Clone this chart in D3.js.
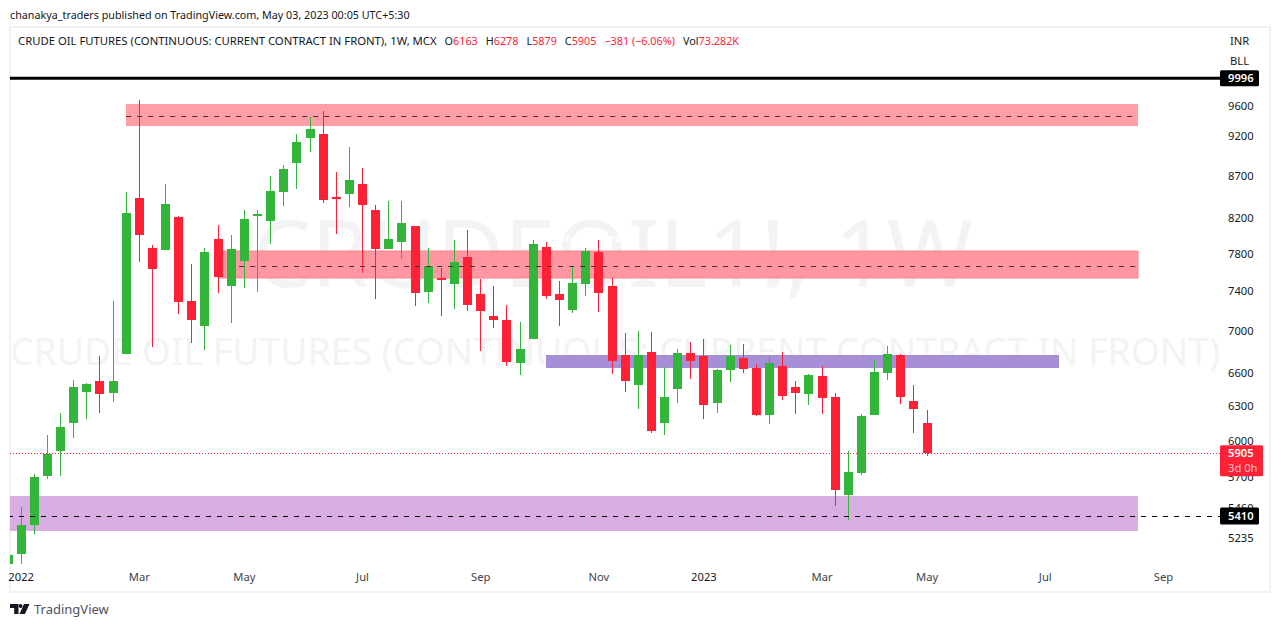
<!DOCTYPE html>
<html>
<head>
<meta charset="utf-8">
<script src="https://cdn.jsdelivr.net/npm/d3@7"></script>
<style>
    html, body { margin: 0; padding: 0; background: #fff; }
    svg { display: block; }
    text { font-family: "Noto Sans", sans-serif; }
</style>
</head>
<body>
<div id="chart"></div>
<script>
// Weekly candles
const opens  = [5055,5126,5338,5719,5923,6160,6435,6535,6426,6787,8450,7876,7854,8227,7312,7060,7976,7467,7734,8238,8181,8521,8875,9192,9243,8462,8497,8617,8308,7865,7943,8124,7404,7551,7488,7778,7384,7160,7119,6702,6932,7887,7384,7220,7488,7832,7467,6777,6498,6806,6160,6462,6797,6768,6336,6636,6749,6655,6230,6674,6480,6417,6581,6390,5568,5743,6230,6608,6777,6354,6163];
const highs  = [5118,5475,5735,6057,6248,6544,6517,6768,7312,8521,9695,7909,8617,8238,7702,7876,8135,8021,8308,8308,8714,8850,9243,9467,9547,8763,9076,8813,8367,8414,8414,8124,7876,7659,7965,8078,7541,7467,7271,7099,7965,7943,7520,7680,7876,7965,7551,6990,7010,7000,6664,6835,6903,6932,6645,6874,6883,6692,6768,6806,6535,6599,6674,6426,5923,6239,6740,6864,6787,6498,6278];
const lows   = [5055,5055,5271,5695,5719,6032,6195,6248,6345,6787,7723,6854,7854,7180,6893,6825,7394,7089,7446,7404,7921,8355,8557,9013,8391,8033,8343,7605,7332,7865,7756,7261,7291,7160,7230,7210,6816,7040,6674,6590,6932,7332,7060,7190,7363,7200,6599,6435,6283,6075,6057,6336,6553,6195,6248,6526,6608,6221,6152,6363,6239,6318,6239,5483,5376,5727,6230,6544,6327,6075,5879];
const closes = [5118,5338,5711,5898,6126,6480,6508,6417,6535,8273,8021,7648,8379,7302,7119,7832,7562,7865,8204,8262,8533,8800,9140,9308,8426,8438,8665,8367,7865,7976,8158,7394,7680,7530,7723,7271,7210,7119,6711,6835,7921,7363,7322,7499,7843,7394,6721,6535,6777,6092,6390,6797,6721,6318,6636,6768,6645,6230,6702,6399,6426,6590,6381,5607,5751,6221,6618,6787,6390,6283,5905];

// Price and time axes
const priceTicks = [9600,9200,8700,8200,7800,7400,7000,6600,6300,6000,5700,5460,5235];
const timeLabels = ["2022","Mar","May","Jul","Sep","Nov","2023","Mar","May","Jul","Sep"];
const timeIndex  = [1,10,18,27,36,45,53,62,70,79,88];

// Drawn zones and levels
const zoneTops    = [9640,7843,6777,5560];
const zoneBottoms = [9348,7551,6655,5294];
const zoneStarts  = [9,16,41,0];
const zoneEnds    = [86.05,86.05,80.05,86.05];
const zoneFills   = ["#ff9ea7","#ff96a1","#a78fd8","#d8ade2"];
const zoneStrokes = ["none","#ff8490","none","none"];
const levelPrices = [9485,7680,5410];
const levelStarts = [9,17.6,0];
const levelEnds   = [86.05,86.05,92.4];
const levelColors = ["#4a2c32","#4a2c32","#000"];

const lastPrice = 5905;
const topLevel = 9996;

const upColor = "#33b53a";
const downColor = "#ff2136";
const textColor = "#131722";
const plotLeft = 10, plotRight = 1220, plotTop = 28, plotBottom = 565;

// Scales
const x = d3.scaleLinear().domain([0, 88]).range([8.02, 1163.46]);
const y = d3.scaleLog().domain([5235, 9600]).range([539, 107]);

const svg = d3.select("#chart").append("svg")
    .attr("width", 1280)
    .attr("height", 627)
    .attr("viewBox", "0 0 1280 627");

svg.append("defs").append("clipPath").attr("id", "plot-clip")
    .append("rect")
    .attr("x", plotLeft).attr("y", plotTop)
    .attr("width", plotRight - plotLeft).attr("height", plotBottom - plotTop);

// Frame
svg.append("rect")
    .attr("x", 10).attr("y", 27).attr("width", 1260).attr("height", 565)
    .attr("fill", "none").attr("stroke", "#f0f0f5").attr("stroke-width", 2);

// Header
svg.append("text")
    .attr("x", 10).attr("y", 19)
    .attr("fill", textColor).style("font-size", "10.75px")
    .text("chanakya_traders published on TradingView.com, May 03, 2023 00:05 UTC+5:30");

// Watermarks
svg.append("text")
    .attr("x", 613).attr("y", 287).attr("text-anchor", "middle")
    .attr("fill", "#f2f3f5").style("font-size", "92.5px")
    .text("CRUDEOIL1!, 1W");
svg.append("text")
    .attr("x", 615).attr("y", 365).attr("text-anchor", "middle")
    .attr("fill", "#f2f3f5").style("font-size", "37.35px")
    .text("CRUDE OIL FUTURES (CONTINUOUS: CURRENT CONTRACT IN FRONT)");

const plot = svg.append("g").attr("clip-path", "url(#plot-clip)");

// Zones
plot.selectAll(".zone")
    .data(zoneTops)
    .enter()
    .append("rect")
    .attr("class", "zone")
    .attr("x", (d, i) => Math.round(x(zoneStarts[i])))
    .attr("y", d => Math.round(y(d)))
    .attr("width", (d, i) => Math.round(x(zoneEnds[i])) - Math.round(x(zoneStarts[i])))
    .attr("height", (d, i) => Math.round(y(zoneBottoms[i])) - Math.round(y(d)))
    .attr("fill", (d, i) => zoneFills[i])
    .attr("stroke", (d, i) => zoneStrokes[i]);

// Zone label, white on the band
plot.append("text")
    .attr("x", 580).attr("y", 242).attr("text-anchor", "middle")
    .attr("fill", "#fff").style("font-size", "11px").style("font-style", "italic").style("font-weight", 700)
    .text("Resistance Area");

// Last price line
plot.append("line")
    .attr("x1", plotLeft).attr("x2", plotRight)
    .attr("y1", Math.round(y(lastPrice)) + 0.5).attr("y2", Math.round(y(lastPrice)) + 0.5)
    .attr("stroke", downColor).attr("stroke-width", 1).attr("stroke-dasharray", "1 2");

// Candles
const candles = plot.selectAll(".candle")
    .data(opens)
    .enter()
    .append("g")
    .attr("class", "candle")
    .attr("fill", (d, i) => closes[i] >= d ? upColor : downColor);

candles.append("rect")
    .attr("x", (d, i) => Math.floor(x(i)))
    .attr("width", 1)
    .attr("y", (d, i) => Math.round(y(highs[i])))
    .attr("height", (d, i) => Math.round(y(lows[i])) - Math.round(y(highs[i])));

candles.append("rect")
    .attr("x", (d, i) => Math.floor(x(i)) - 4)
    .attr("width", 9)
    .attr("y", (d, i) => Math.round(y(Math.max(d, closes[i]))))
    .attr("height", (d, i) => Math.max(1, Math.round(y(Math.min(d, closes[i]))) - Math.round(y(Math.max(d, closes[i])))));

// Levels
plot.selectAll(".level")
    .data(levelPrices)
    .enter()
    .append("line")
    .attr("class", "level")
    .attr("x1", (d, i) => x(levelStarts[i]))
    .attr("x2", (d, i) => x(levelEnds[i]))
    .attr("y1", d => Math.round(y(d)) + 0.5)
    .attr("y2", d => Math.round(y(d)) + 0.5)
    .attr("stroke", (d, i) => levelColors[i]).attr("stroke-width", 1).attr("stroke-dasharray", "5 6");

plot.append("line")
    .attr("x1", plotLeft).attr("x2", plotRight)
    .attr("y1", y(topLevel)).attr("y2", y(topLevel))
    .attr("stroke", "#000").attr("stroke-width", 3);

// Legend line
const legend = svg.append("text")
    .attr("x", 18).attr("y", 45)
    .attr("fill", textColor).style("font-size", "11.3px");
legend.append("tspan").text("CRUDE OIL FUTURES (CONTINUOUS: CURRENT CONTRACT IN FRONT), 1W, MCX");
[["O", "6163"], ["H", "6278"], ["L", "5879"], ["C", "5905"]].forEach(p => {
    legend.append("tspan").attr("dx", 8).style("font-size", "10.8px").text(p[0]);
    legend.append("tspan").attr("fill", downColor).style("font-size", "10.8px").text(p[1]);
});
legend.append("tspan").attr("dx", 8).attr("fill", downColor).style("font-size", "10.8px").text("\u2212381 (\u22126.06%)");
legend.append("tspan").attr("dx", 8).style("font-size", "10.8px").text("Vol");
legend.append("tspan").attr("fill", downColor).style("font-size", "10.8px").text("73.282K");

svg.append("text").attr("x", 1230).attr("y", 45).attr("fill", textColor).style("font-size", "11.2px").text("INR");
svg.append("text").attr("x", 1230).attr("y", 65).attr("fill", textColor).style("font-size", "11.2px").text("BLL");

// Price axis labels
svg.selectAll(".price-tick")
    .data(priceTicks)
    .enter()
    .append("text")
    .attr("class", "price-tick")
    .attr("x", 1228)
    .attr("y", d => y(d) + 3)
    .attr("fill", textColor)
    .style("font-size", "11.2px")
    .text(d => d);

// Time axis labels
svg.selectAll(".time-tick")
    .data(timeLabels)
    .enter()
    .append("text")
    .attr("class", "time-tick")
    .attr("x", (d, i) => x(timeIndex[i]))
    .attr("y", 581)
    .attr("text-anchor", "middle")
    .attr("fill", d => d.length === 4 ? textColor : "#3f424c")
    .style("font-size", "11.2px")
    .text(d => d);

// Price tags
function tag(level, w, h, fill, label) {
    const cy = y(level);
    svg.append("rect")
        .attr("x", plotRight).attr("y", cy - 8).attr("width", w).attr("height", h)
        .attr("rx", 1.5).attr("fill", fill);
    svg.append("text")
        .attr("x", 1228).attr("y", cy + 4)
        .attr("fill", "#fff").style("font-size", "11.2px").style("font-weight", 600)
        .text(label);
}
tag(topLevel, 39, 16, "#000", topLevel);
tag(5410, 39, 17, "#000", 5410);
tag(lastPrice, 43, 31, downColor, lastPrice);
svg.append("text")
    .attr("x", 1228).attr("y", y(lastPrice) + 19)
    .attr("fill", "#ffc4ca").style("font-size", "11.2px")
    .text("3d 0h");

// Logo
svg.append("path")
    .attr("d", "M10 604h8.5v10h-4.3v-6H10zM24 604h5.5l-4.6 10h-5.4z")
    .attr("fill", textColor);
svg.append("circle").attr("cx", 20.6).attr("cy", 606).attr("r", 1.9).attr("fill", textColor);
svg.append("text")
    .attr("x", 34).attr("y", 613.5)
    .attr("fill", "#50535e").style("font-size", "13px")
    .text("TradingView");
</script>
</body>
</html>
